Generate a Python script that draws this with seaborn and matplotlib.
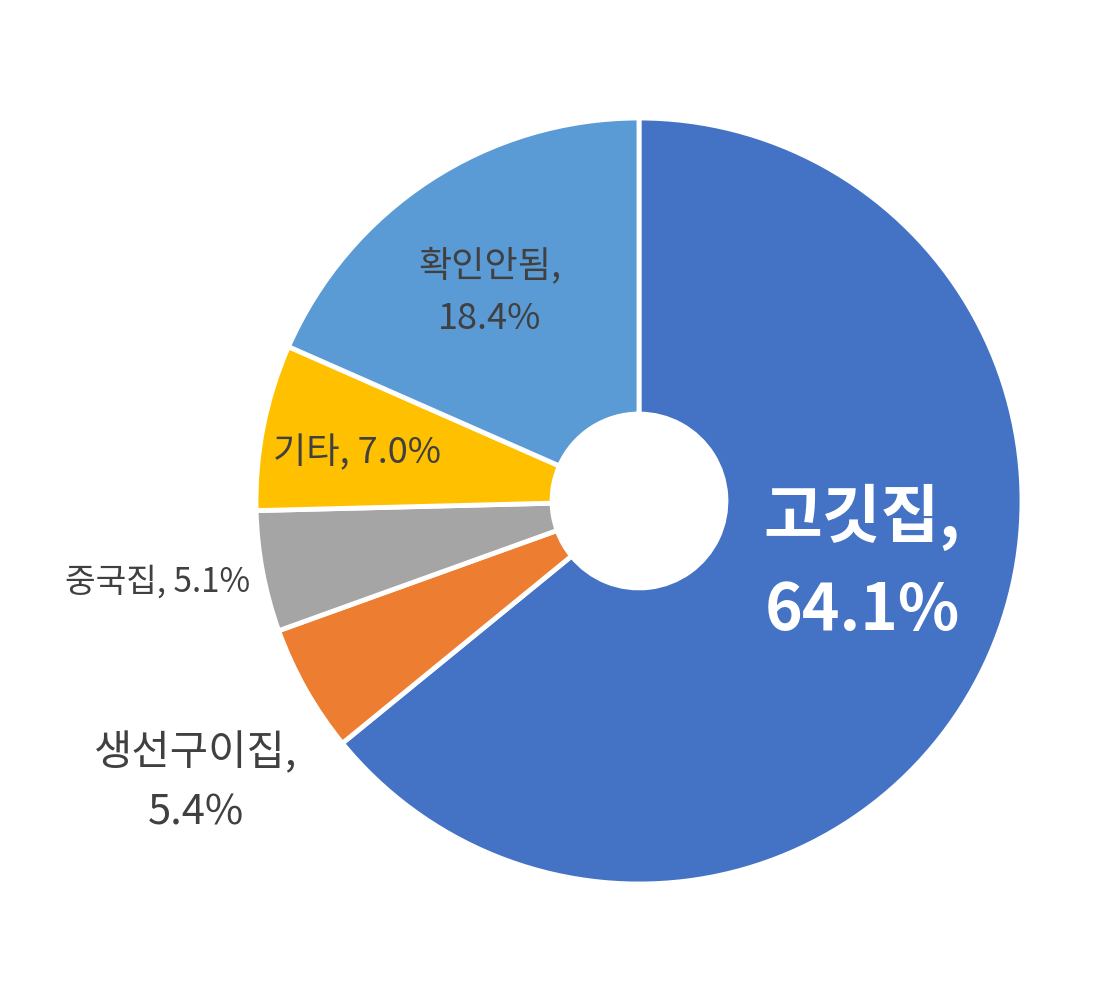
import matplotlib
matplotlib.use("Agg")
import matplotlib.pyplot as plt
import seaborn as sns

# 데이터
categories = ["고깃집", "생선구이집", "중국집", "기타", "확인안됨"]
shares = [64.1, 5.4, 5.1, 7.0, 18.4]
colors = ["#4472C4", "#ED7D31", "#A5A5A5", "#FFC000", "#5B9BD5"]

sns.set_theme(style="white")
plt.rcParams['font.family'] = ['Noto Sans CJK KR', 'DejaVu Sans']

fig = plt.figure(figsize=(11.18, 10.08), dpi=100)
ax = fig.add_axes([0, 0, 1, 1])

ax.pie(shares, colors=colors, startangle=90, counterclock=False,
       radius=1.0,
       wedgeprops=dict(width=0.773, edgecolor="white", linewidth=3.5))

# 라벨 위치 (축 좌표)
label_pos = [(0.582, -0.164), (-1.158, -0.735), (-1.256, -0.212),
             (-0.735, 0.125), (-0.389, 0.544)]
label_size = [46, 30, 24, 26, 26]
label_weight = ["bold", "normal", "normal", "normal", "normal"]
label_color = ["white", "#404040", "#404040", "#404040", "#404040"]
label_text = [
    f"{categories[0]},\n{shares[0]:.1f}%",
    f"{categories[1]},\n{shares[1]:.1f}%",
    f"{categories[2]}, {shares[2]:.1f}%",
    f"{categories[3]}, {shares[3]:.1f}%",
    f"{categories[4]},\n{shares[4]:.1f}%",
]
label_spacing = [1.55, 1.55, 1.2, 1.2, 1.6]
for txt, (x, y), s, w, c, ls in zip(label_text, label_pos, label_size,
                                     label_weight, label_color, label_spacing):
    ax.text(x, y, txt, ha="center", va="center", fontsize=s, fontweight=w,
            color=c, linespacing=ls)

ax.set_xlim(-639 / 383, (1118 - 639) / 383)
ax.set_ylim(-507 / 383, 501 / 383)
ax.set_aspect("equal")
ax.axis("off")

fig.savefig("out.png", dpi=100, facecolor="white")
